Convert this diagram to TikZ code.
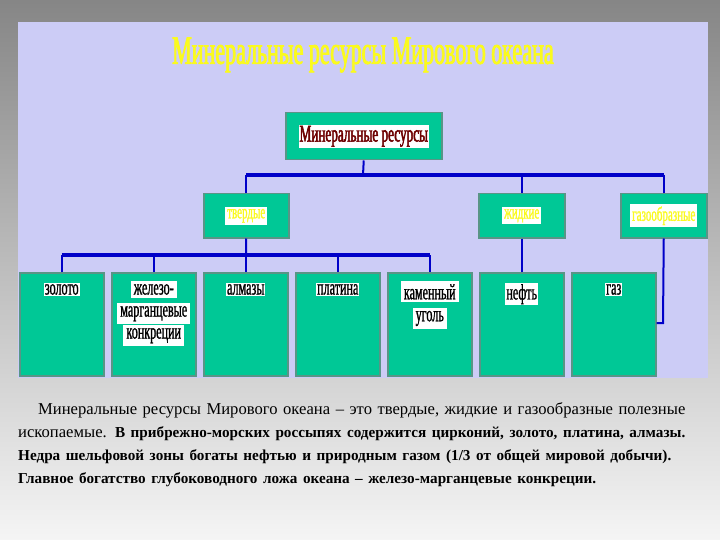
\documentclass[tikz,border=0pt]{standalone}
\usepackage{fontspec}
\setmainfont{Liberation Serif}
\newfontfamily\cond[FakeStretch=0.55,FakeBold=1]{Liberation Serif}
\newfontfamily\condb[FakeStretch=0.55,FakeBold=2]{Liberation Serif}
\definecolor{panel}{RGB}{204,204,246}
\definecolor{teal}{RGB}{0,200,150}
\definecolor{lineblue}{RGB}{0,0,200}
\definecolor{dred}{RGB}{110,0,0}
\definecolor{yel}{RGB}{250,250,30}
\begin{document}
\begin{tikzpicture}[x=1pt,y=-1pt,
 box/.style={draw=gray!70!teal,line width=1.5pt,fill=teal,anchor=north west,inner sep=0pt},
 lbl/.style={fill=white,inner sep=1pt,font=\cond\fontsize{22}{28}\selectfont,text=black,align=center},
 ylbl/.style={fill=white,inner sep=2pt,font=\cond\fontsize{20}{22}\selectfont,text=yel},
 conn/.style={draw=lineblue,line width=2pt},
 bar/.style={draw=lineblue,line width=4pt}]
\useasboundingbox (0,0) rectangle (720,540);
\shade[top color=gray!95,bottom color=white!92!gray] (0,0) rectangle (720,540);
\fill[panel] (18,22) rectangle (708,378);
\node[font=\condb\fontsize{40}{42}\selectfont,text=yel] (title) at (363,55) {Минеральные ресурсы Мирового океана};
% top
\node[box,minimum width=156pt,minimum height=47pt] (top) at (285,112) {};
\node[fill=white,inner sep=1pt,font=\condb\fontsize{24}{26}\selectfont,text=dred] (toplbl) at (top.center) {Минеральные ресурсы};
% level 2
\node[box,minimum width=85pt,minimum height=44pt] (tv) at (203,193) {};
\node[box,minimum width=86pt,minimum height=44pt] (zh) at (478,193) {};
\node[box,minimum width=86pt,minimum height=44pt] (gz) at (620,193) {};
\node[ylbl] at (tv.center) {твердые};
\node[ylbl] at (zh.center) {жидкие};
\node[ylbl] at (gz.center) {газообразные};
% level 3
\foreach \n/\x in {a/19,b/111,c/203,d/295,e/387,f/479,g/571}
  \node[box,minimum width=84pt,minimum height=103pt] (\n) at (\x,272) {};
\node[lbl,anchor=north] at ([yshift=-11pt]a.north) {золото};
\node[lbl,anchor=north,fill=none] at ([yshift=-8pt]b.north) {\colorbox{white}{железо-}\\[-6pt]\colorbox{white}{марганцевые}\\[-6pt]\colorbox{white}{конкреции}};
\node[lbl,anchor=north] at ([yshift=-11pt]c.north) {алмазы};
\node[lbl,anchor=north] at ([yshift=-11pt]d.north) {платина};
\node[lbl,anchor=north,fill=none] at ([yshift=-8pt]e.north) {\colorbox{white}{каменный}\\[-6pt]\colorbox{white}{уголь}};
\node[lbl,anchor=north] at ([yshift=-11pt]f.north) {нефть};
\node[lbl,anchor=north] at ([yshift=-11pt]g.north) {газ};
% connectors
\coordinate (j1) at (363,175);
\draw[conn] (top.south) -- (j1);
\draw[bar] (tv.north |- j1) -- (gz.north |- j1);
\draw[conn] (tv.north |- j1) -- (tv.north);
\draw[conn] (zh.north |- j1) -- (zh.north);
\draw[conn] (gz.north |- j1) -- (gz.north);
\coordinate (j2) at (246,255);
\draw[conn] (tv.south) -- (j2);
\draw[bar] (a.north |- j2) -- (e.north |- j2);
\foreach \n in {a,b,c,d,e} \draw[conn] (\n.north |- j2) -- (\n.north);
\draw[conn] (zh.south) -- (f.north);
\coordinate (j3) at (663,323);
\draw[conn] (gz.south) -- (j3) -- (g.east |- j3);
% text
\node[anchor=north west,text width=690pt,inner sep=0pt,font=\fontsize{16.6}{23}\selectfont] (txt) at (18,402)
{\raggedright\hspace*{20pt}Минеральные ресурсы Мирового океана – это твердые, жидкие и газообразные полезные ископаемые. {\fontsize{15.2}{23}\selectfont\bfseries В прибрежно-морских россыпях содержится цирконий, золото, платина, алмазы. Недра шельфовой зоны богаты нефтью и природным газом (1/3 от общей мировой добычи). Главное богатство глубоководного ложа океана – железо-марганцевые конкреции.}\par};
\end{tikzpicture}
\end{document}
